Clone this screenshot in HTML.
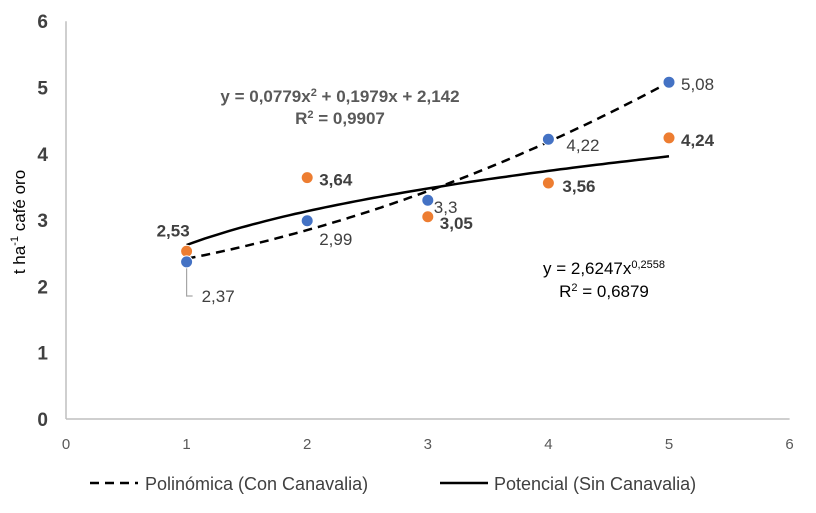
<!DOCTYPE html>
<html><head><meta charset="utf-8"><style>
html,body{margin:0;padding:0;background:#fff;}
svg{display:block;font-family:"Liberation Sans",Arial,sans-serif;}
</style></head><body>
<svg id="chart" width="816" height="513"></svg>
<script>
const categories=[1,2,3,4,5];
const conCanavalia=[2.37,2.99,3.3,4.22,5.08];
const sinCanavalia=[2.53,3.64,3.05,3.56,4.24];
const xTicks=[0,1,2,3,4,5,6];
const yTicks=[0,1,2,3,4,5,6];
const polyCoef=[2.142,0.1979,0.0779];
const powCoef=[2.6247,0.2558];

const NS="http://www.w3.org/2000/svg";
const svg=document.getElementById('chart');
const X0=66,XU=120.6,Y0=419,YU=66.3;
const sx=v=>X0+v*XU, sy=v=>Y0-v*YU;
function mk(tag,attrs,text){const e=document.createElementNS(NS,tag);for(const k in attrs)e.setAttribute(k,attrs[k]);if(text!==undefined)e.textContent=text;svg.appendChild(e);return e;}

let e=mk('line',{x1:sx(0),y1:sy(6),x2:sx(0),y2:sy(0),stroke:'#bfbfbf','stroke-width':1.5});

e=mk('line',{x1:sx(0),y1:sy(0),x2:sx(6),y2:sy(0),stroke:'#bfbfbf','stroke-width':1.5});

yTicks.forEach(t=>{const el=mk('text',{x:48,y:sy(t)+7,'text-anchor':'end','font-size':19,'font-weight':'bold',fill:'#404040'},String(t));
});
xTicks.forEach(t=>{const el=mk('text',{x:sx(t),y:449,'text-anchor':'middle','font-size':15,fill:'#595959'},String(t));
});
e=mk('text',{transform:'translate(25,222) rotate(-90)','text-anchor':'middle','font-size':17,fill:'#000'});
e.innerHTML='t ha<tspan dy="-7" font-size="11">-1</tspan><tspan dy="7"> café oro</tspan>';


let p1='',p2='';
for(let i=0;i<=80;i++){const x=1+4*i/80;
const y1=polyCoef[0]+polyCoef[1]*x+polyCoef[2]*x*x;
const y2=powCoef[0]*Math.pow(x,powCoef[1]);
p1+=(i?'L':'M')+sx(x).toFixed(1)+','+sy(y1).toFixed(1);
p2+=(i?'L':'M')+sx(x).toFixed(1)+','+sy(y2).toFixed(1);}
e=mk('path',{d:p1,fill:'none',stroke:'#000','stroke-width':2.5,'stroke-dasharray':'9,6'});

e=mk('path',{d:p2,fill:'none',stroke:'#000','stroke-width':2.5});


e=mk('polyline',{points:`${sx(1)},${sy(2.37)+6} ${sx(1)},296 ${sx(1)+6},296`,fill:'none',stroke:'#a6a6a6','stroke-width':1.2});


const blueOff=[[15,40],[12,24],[6,13],[18,12],[12,8]];
const orOff=[[-30,-15],[12,8],[12,12],[14,9],[12,8]];
categories.forEach((c,i)=>{
 let pt=mk('circle',{cx:sx(c),cy:sy(sinCanavalia[i]),r:6,fill:'#ed7d31',stroke:'#fff','stroke-width':1});
 
 pt=mk('circle',{cx:sx(c),cy:sy(conCanavalia[i]),r:6,fill:'#4472c4',stroke:'#fff','stroke-width':1});
 
 let lb=mk('text',{x:sx(c)+blueOff[i][0],y:sy(conCanavalia[i])+blueOff[i][1],'font-size':17,fill:'#404040'},String(conCanavalia[i]).replace('.',','));
 
 lb=mk('text',{x:sx(c)+orOff[i][0],y:sy(sinCanavalia[i])+orOff[i][1],'font-size':17,'font-weight':'bold',fill:'#404040'},sinCanavalia[i].toFixed(2).replace('.',','));
 
});

e=mk('text',{x:340,y:102,'text-anchor':'middle','font-size':17,'font-weight':'bold',fill:'#595959'});
e.innerHTML='y = 0,0779x<tspan font-size="11" dy="-6">2</tspan><tspan dy="6"> + 0,1979x + 2,142</tspan>';

e=mk('text',{x:340,y:124,'text-anchor':'middle','font-size':17,'font-weight':'bold',fill:'#595959'});
e.innerHTML='R<tspan font-size="11" dy="-6">2</tspan><tspan dy="6"> = 0,9907</tspan>';

e=mk('text',{x:604,y:274,'text-anchor':'middle','font-size':17,fill:'#000'});
e.innerHTML='y = 2,6247x<tspan font-size="11" dy="-6">0,2558</tspan>';

e=mk('text',{x:604,y:297,'text-anchor':'middle','font-size':17,fill:'#000'});
e.innerHTML='R<tspan font-size="11" dy="-6">2</tspan><tspan dy="6"> = 0,6879</tspan>';


e=mk('line',{x1:90,y1:483,x2:138,y2:483,stroke:'#000','stroke-width':2.5,'stroke-dasharray':'9,6'});

e=mk('text',{x:145,y:490,'font-size':18,fill:'#404040'},'Polinómica (Con Canavalia)');

e=mk('line',{x1:440,y1:483,x2:488,y2:483,stroke:'#000','stroke-width':2.5});

e=mk('text',{x:494,y:490,'font-size':18,fill:'#404040'},'Potencial (Sin Canavalia)');

</script>
</body></html>
